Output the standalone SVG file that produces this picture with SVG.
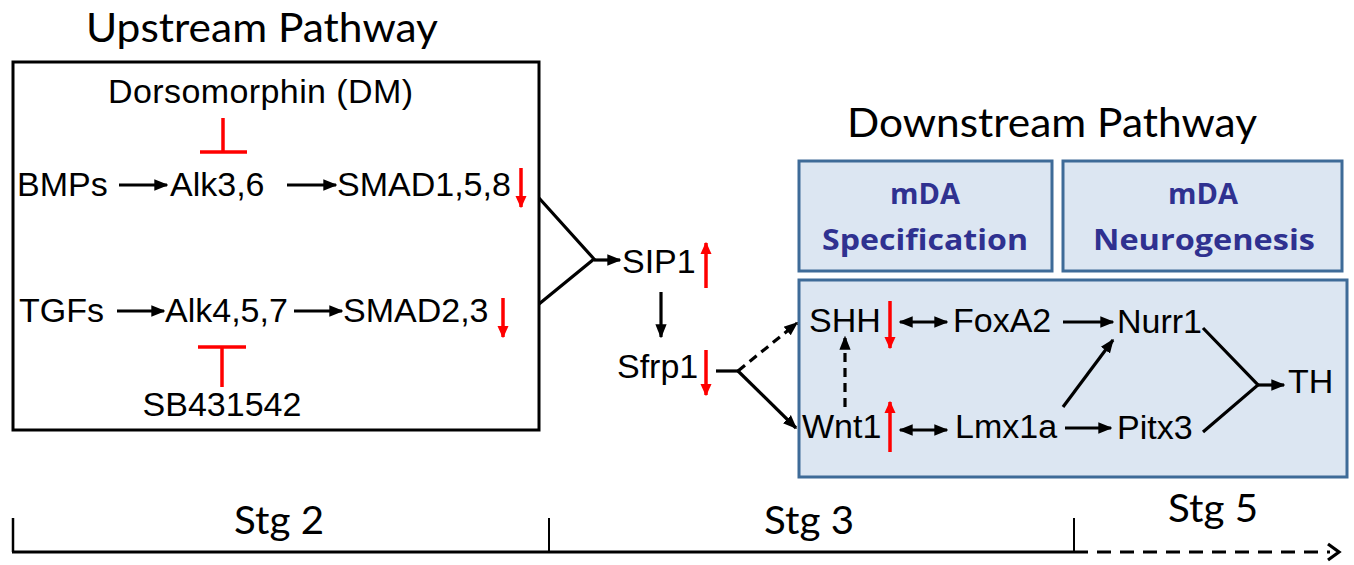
<svg xmlns="http://www.w3.org/2000/svg" width="1354" height="565" viewBox="0 0 1354 565">
<style>
.t{font-family:"Liberation Sans",Arial,sans-serif;font-size:34px;fill:#000}
.h{font-family:Lato,"Open Sans",sans-serif;font-size:40px;fill:#000}
.s{font-family:Lato,"Open Sans",sans-serif;font-size:38px;fill:#000}
.b{font-family:"Open Sans",Lato,sans-serif;font-size:29px;font-weight:bold;fill:#2f3190}
.ln{stroke:#000;stroke-width:3.2;fill:none}
.red{stroke:#ff0000;stroke-width:3.5;fill:none}
.box{fill:#dce6f2;stroke:#3e6b98;stroke-width:3}
</style>
<defs>
<marker id="ah" viewBox="0 0 10 10" refX="9" refY="5" markerWidth="4.4" markerHeight="4.4" orient="auto-start-reverse" markerUnits="strokeWidth">
<path d="M0,1 L10,5 L0,9 z" fill="#000"/>
</marker>
<marker id="rh" viewBox="0 0 10 10" refX="9" refY="5" markerWidth="3.6" markerHeight="3.6" orient="auto" markerUnits="strokeWidth">
<path d="M0,0.5 L10,5 L0,9.5 z" fill="#ff0000"/>
</marker>
</defs>

<g id="upstream">
<text class="h" x="86" y="42" textLength="352" lengthAdjust="spacingAndGlyphs">Upstream Pathway</text>
<rect x="13" y="62" width="526" height="368" fill="#fff" stroke="#000" stroke-width="3"/>
</g>
<g id="dm"><text class="t" x="108" y="103" textLength="305" lengthAdjust="spacing">Dorsomorphin (DM)</text></g>
<g id="bmps"><text class="t" x="17" y="196">BMPs</text></g>
<g id="alk36"><text class="t" x="170" y="196">Alk3,6</text></g>
<g id="smad158"><text class="t" x="337" y="196">SMAD1,5,8</text>
<line class="red" x1="521" y1="168" x2="521" y2="207" marker-end="url(#rh)"/></g>
<g id="tgfs"><text class="t" x="19" y="322">TGFs</text></g>
<g id="alk457"><text class="t" x="165" y="322">Alk4,5,7</text></g>
<g id="smad23"><text class="t" x="343" y="322">SMAD2,3</text>
<line class="red" x1="503" y1="298" x2="503" y2="337" marker-end="url(#rh)"/></g>
<g id="sb"><text class="t" x="222" y="416" text-anchor="middle">SB431542</text></g>

<g id="sip1"><text class="t" x="622" y="273">SIP1</text>
<line class="red" x1="706" y1="288" x2="706" y2="243" marker-end="url(#rh)"/></g>
<g id="sfrp1"><text class="t" x="617" y="378">Sfrp1</text>
<line class="red" x1="706" y1="350" x2="706" y2="395" marker-end="url(#rh)"/></g>

<g id="downstream">
<text class="h" x="847" y="137" textLength="410" lengthAdjust="spacingAndGlyphs">Downstream Pathway</text>
</g>
<g id="spec"><rect class="box" x="799" y="161" width="253" height="110"/>
<text class="b" x="925" y="204" text-anchor="middle">mDA</text>
<text class="b" x="822" y="250" textLength="206" lengthAdjust="spacingAndGlyphs">Specification</text></g>
<g id="neuro"><rect class="box" x="1063" y="161" width="279" height="110"/>
<text class="b" x="1203" y="204" text-anchor="middle">mDA</text>
<text class="b" x="1093" y="250" textLength="222" lengthAdjust="spacingAndGlyphs">Neurogenesis</text></g>
<g id="network"><rect class="box" x="799" y="280" width="548" height="197"/></g>
<g id="shh"><text class="t" x="809" y="332">SHH</text>
<line class="red" x1="890" y1="301" x2="890" y2="348" marker-end="url(#rh)"/></g>
<g id="foxa2"><text class="t" x="953" y="332">FoxA2</text></g>
<g id="nurr1"><text class="t" x="1117" y="333">Nurr1</text></g>
<g id="wnt1"><text class="t" x="802" y="438">Wnt1</text>
<line class="red" x1="890" y1="452" x2="890" y2="402" marker-end="url(#rh)"/></g>
<g id="lmx1a"><text class="t" x="955" y="438">Lmx1a</text></g>
<g id="pitx3"><text class="t" x="1117" y="439">Pitx3</text></g>
<g id="th"><text class="t" x="1288" y="393">TH</text></g>

<g id="connectors">
<line class="ln" x1="119" y1="185" x2="167" y2="185" marker-end="url(#ah)"/>
<line class="ln" x1="287" y1="185" x2="336" y2="185" marker-end="url(#ah)"/>
<line class="ln" x1="117" y1="311" x2="164" y2="311" marker-end="url(#ah)"/>
<line class="ln" x1="294" y1="311" x2="342" y2="311" marker-end="url(#ah)"/>
<line class="red" x1="223" y1="118" x2="223" y2="152"/>
<line class="red" x1="200" y1="152" x2="247" y2="152"/>
<line class="red" x1="198" y1="347" x2="246" y2="347"/>
<line class="red" x1="222" y1="347" x2="222" y2="387"/>
<polyline class="ln" points="539,198 594,259 539,304"/>
<line class="ln" x1="594" y1="260" x2="620" y2="260" marker-end="url(#ah)"/>
<line class="ln" x1="661" y1="292" x2="661" y2="337" marker-end="url(#ah)"/>
<line class="ln" x1="716" y1="371" x2="738" y2="371"/>
<line class="ln" x1="738" y1="371" x2="797" y2="323" stroke-dasharray="9,6" marker-end="url(#ah)"/>
<line class="ln" x1="738" y1="371" x2="796" y2="428" marker-end="url(#ah)"/>
<line class="ln" x1="845" y1="407" x2="845" y2="337" stroke-dasharray="9,6" marker-end="url(#ah)"/>
<line class="ln" x1="900" y1="322" x2="947" y2="322" marker-start="url(#ah)" marker-end="url(#ah)"/>
<line class="ln" x1="900" y1="430" x2="947" y2="430" marker-start="url(#ah)" marker-end="url(#ah)"/>
<line class="ln" x1="1063" y1="322" x2="1113" y2="322" marker-end="url(#ah)"/>
<line class="ln" x1="1065" y1="428" x2="1111" y2="428" marker-end="url(#ah)"/>
<line class="ln" x1="1063" y1="407" x2="1113" y2="340" marker-end="url(#ah)"/>
<polyline class="ln" points="1203,328 1258,385 1203,432"/>
<line class="ln" x1="1258" y1="385" x2="1284" y2="385" marker-end="url(#ah)"/>
</g>

<g id="timeline">
<line class="ln" x1="12" y1="552" x2="1074" y2="552"/>
<line class="ln" x1="1074" y1="552" x2="1330" y2="552" stroke-dasharray="14,9"/>
<polyline class="ln" points="1328,544 1339,552 1328,560" stroke-width="2.5"/>
<line x1="13" y1="518" x2="13" y2="552" stroke="#000" stroke-width="2.5"/>
<line x1="549" y1="518" x2="549" y2="552" stroke="#000" stroke-width="2"/>
<line x1="1074" y1="518" x2="1074" y2="552" stroke="#000" stroke-width="2"/>
<text class="s" x="234" y="534" textLength="90" lengthAdjust="spacingAndGlyphs">Stg 2</text>
<text class="s" x="764" y="534" textLength="90" lengthAdjust="spacingAndGlyphs">Stg 3</text>
<text class="s" x="1168" y="522" textLength="90" lengthAdjust="spacingAndGlyphs">Stg 5</text>
</g>
</svg>
